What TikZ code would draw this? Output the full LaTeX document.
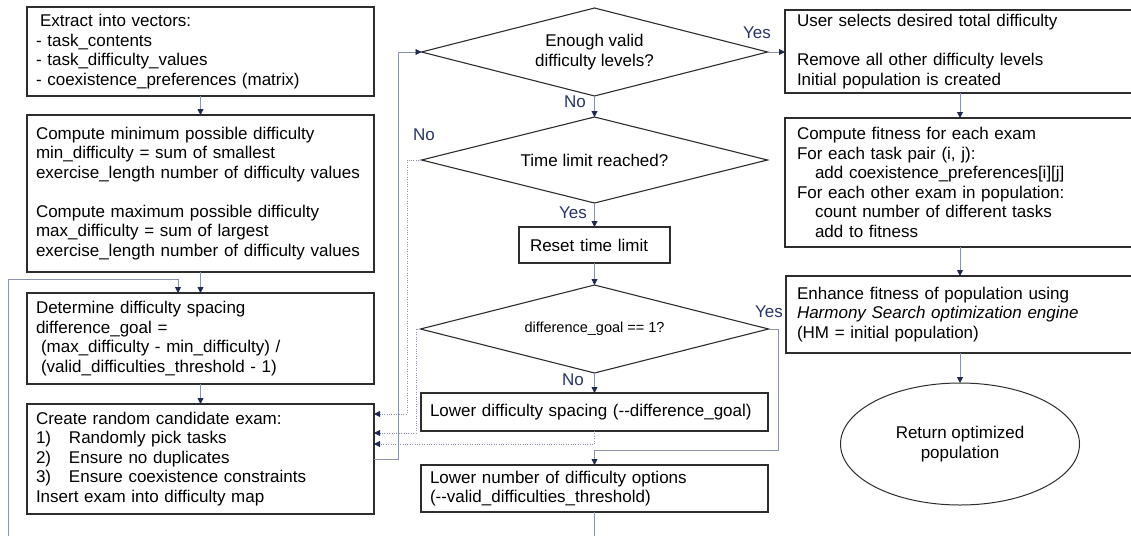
\documentclass[tikz,border=0pt]{standalone}
\usepackage{fontspec}
\newfontfamily\arial{Liberation Sans}
\usetikzlibrary{arrows.meta,shapes.geometric,calc}
\definecolor{boxc}{RGB}{45,45,45}
\definecolor{linec}{RGB}{140,146,172}
\definecolor{tipc}{RGB}{30,40,80}
\definecolor{labc}{RGB}{40,52,100}
\begin{document}
\begin{tikzpicture}[x=1pt,y=-1pt,
  txt/.style={font=\arial\fontsize{17}{19.5}\selectfont},
  box/.style={txt,draw=boxc,line width=1.1pt,anchor=north west,inner xsep=9pt,inner ysep=2pt,outer sep=0pt,align=left},
  dia/.style={txt,draw=boxc,line width=1.1pt,shape=diamond,aspect=4,inner sep=0pt,outer sep=0pt,align=center},
  conn/.style={draw=linec,line width=0.9pt,-{Triangle[length=6pt,width=6pt,color=tipc]}},
  dotc/.style={conn,dash pattern=on 1pt off 1.4pt},
  lab/.style={txt,text=labc,inner sep=0pt}]
\useasboundingbox (0,0) rectangle (1131,535);
% left column
\node[box,text width=329pt,minimum height=89pt] (b1) at (27,7)
 {\hspace*{4pt}Extract into vectors:\\- task\_contents\\- task\_difficulty\_values\\- coexistence\_preferences (matrix)};
\node[box,text width=329pt,minimum height=157pt] (b2) at (27,115)
 {Compute minimum possible difficulty\\min\_difficulty = sum of smallest\\exercise\_length number of difficulty values\\[19.5pt]Compute maximum possible difficulty\\max\_difficulty = sum of largest\\exercise\_length number of difficulty values};
\node[box,text width=329pt,minimum height=91pt] (b3) at (27,293)
 {Determine difficulty spacing\\difference\_goal =\\\hspace*{5pt}(max\_difficulty - min\_difficulty) /\\\hspace*{5pt}(valid\_difficulties\_threshold - 1)};
\node[box,text width=329pt,minimum height=110pt] (b4) at (27,404)
 {Create random candidate exam:\\\makebox[33pt][l]{1)}Randomly pick tasks\\\makebox[33pt][l]{2)}Ensure no duplicates\\\makebox[33pt][l]{3)}Ensure coexistence constraints\\Insert exam into difficulty map};
% middle column
\node[dia,minimum width=346pt,minimum height=88pt] (d1) at (594.5,52) {Enough valid\\difficulty levels?};
\node[dia,minimum width=346pt,minimum height=86pt] (d2) at (594.5,160) {Time limit reached?};
\node[box,inner xsep=11pt,text width=129pt,minimum height=36pt] (reset) at (519,227) {Reset time limit};
\node[dia,minimum width=348pt,minimum height=88pt,font=\arial\fontsize{14.5}{16}\selectfont] (d3) at (594.5,329) {difference\_goal == 1?};
\node[box,text width=329pt,minimum height=38pt] (lowsp) at (421,393) {Lower difficulty spacing (-\kern0pt-difference\_goal)};
\node[box,text width=329pt,minimum height=47pt] (lownum) at (421,465) {Lower number of difficulty options\\(-\kern0pt-valid\_difficulties\_threshold)};
% right column
\node[box,inner xsep=12pt,text width=331pt,minimum height=83pt] (b5) at (785,10)
 {User selects desired total difficulty\\[19.5pt]Remove all other difficulty levels\\Initial population is created};
\node[box,inner xsep=12pt,text width=331pt,minimum height=129pt] (b6) at (785,118)
 {Compute fitness for each exam\\For each task pair (i, j):\\\hspace*{18pt}add coexistence\_preferences[i][j]\\For each other exam in population:\\\hspace*{18pt}count number of different tasks\\\hspace*{18pt}add to fitness};
\node[box,inner xsep=11pt,text width=332pt,minimum height=77pt] (b7) at (786,276)
 {Enhance fitness of population using\\\textit{Harmony Search optimization engine}\\(HM = initial population)};
\node[txt,draw=boxc,line width=1pt,ellipse,minimum width=239pt,minimum height=122pt,inner sep=0pt,outer sep=0pt,align=center] (ell) at (960,444) {Return optimized\\population};
% connectors left column
\draw[conn] (b1.south) -- (b2.north);
\draw[conn] (b2.south) -- (b3.north);
\draw[conn] (b3.south) -- (b4.north);
\coordinate (lp) at (178,279);
\coordinate (lc) at (8,279);
\draw[conn] (lownum.south) -- ++(0,40) -| (lc) -- (lp) -- (lp |- b3.north);
\draw[conn] (b4.east) -- ++(24,0) |- (d1.west);
% middle column
\draw[conn] (d1.east) -- (b5.west |- d1.east);
\node[lab] at (757,33) {Yes};
\draw[conn] (d1.south) -- (d2.north);
\node[lab] at (575,102) {No};
\coordinate (c1) at (407,414);
\draw[dotc] (d2.west) -| (c1) -- ($(b4.north east)+(0,10)$);
\node[lab] at (424,135) {No};
\draw[conn] (d2.south) -- (reset.north);
\node[lab] at (573,213) {Yes};
\draw[conn] (reset.south) -- (d3.north);
\coordinate (c2) at (416,433);
\draw[dotc] (d3.west) -| (c2) -- ($(b4.north east)+(0,29)$);
\draw[conn] (d3.south) -- (lowsp.north);
\node[lab] at (573,380) {No};
\draw[dotc] (lowsp.south) -- ++(0,13) -- ($(b4.north east)+(0,40)$);
\draw[conn] (d3.east) -- ++(10,0) |- ($(lownum.north)+(0,-15)$) -- (lownum.north);
\node[lab] at (769,312) {Yes};
% right column
\draw[conn] (b5.south -| ell.north) -- (b6.north -| ell.north);
\draw[conn] (b6.south -| ell.north) -- (b7.north -| ell.north);
\draw[conn] (b7.south -| ell.north) -- (ell.north);
\end{tikzpicture}
\end{document}
